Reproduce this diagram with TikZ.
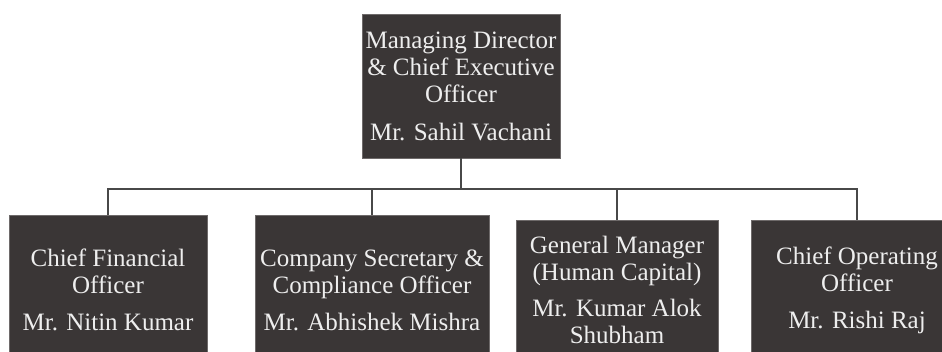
\documentclass[tikz,border=0pt]{standalone}
\usepackage{fontspec}
\setmainfont{Liberation Serif}
\definecolor{boxfill}{RGB}{58,54,54}
\definecolor{boxline}{RGB}{110,106,106}
\definecolor{wirecol}{RGB}{72,72,72}
\definecolor{txtcol}{RGB}{238,238,238}

\begin{document}
\begin{tikzpicture}[x=1pt, y=-1pt,
    post/.style={draw=boxline, fill=boxfill, text=txtcol, align=center, inner sep=0pt,
      font=\fontsize{25}{27}\selectfont},
    wire/.style={draw=wirecol, line width=1.5pt}]
  \clip (0,0) rectangle (942,351);
  \fill[white] (0,0) rectangle (942,351);
  % head of the chart
  \node[post, minimum width=198, minimum height=144] (md) at (461,86)
    {Managing Director\\ \& Chief Executive\\ Officer\\[11pt] Mr. Sahil Vachani};
  % direct reports, their lower edges run off the page
  \node[post, minimum width=198, minimum height=150] (cfo) at (108,290)
    {Chief Financial\\ Officer\\[10pt] Mr. Nitin Kumar};
  \node[post, minimum width=234, minimum height=150] (cs) at (372,290)
    {Company Secretary \&\\ Compliance Officer\\[10pt] Mr. Abhishek Mishra};
  \node[post, minimum width=202, minimum height=140] (gm) at (617,290)
    {General Manager\\ (Human Capital)\\[9pt] Mr. Kumar Alok\\ Shubham};
  \node[post, minimum width=212, minimum height=140] (coo) at (857,290)
    {Chief Operating\\ Officer\\[10pt] Mr. Rishi Raj};
  % connectors
  \foreach \n in {cfo,cs,gm,coo}
    \draw[wire] (md.south) -- ([yshift=-31pt]md.south) -| (\n.north);
\end{tikzpicture}
\end{document}
